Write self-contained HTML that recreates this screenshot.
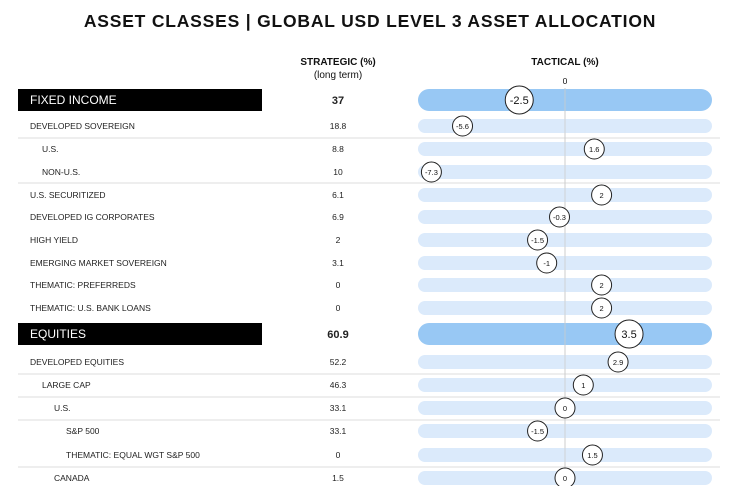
<!DOCTYPE html>
<html><head><meta charset="utf-8"><style>
body{margin:0;width:741px;height:486px;background:#fff;overflow:hidden;font-family:"Liberation Sans",sans-serif;}
svg{display:block}
</style></head><body>
<svg id="c" width="741" height="486">
<text x="370" y="27" text-anchor="middle" font-size="17.5" font-weight="bold" letter-spacing="0.8" fill="#111">ASSET CLASSES | GLOBAL USD LEVEL 3 ASSET ALLOCATION</text>
<text x="338" y="65" text-anchor="middle" font-size="10" font-weight="bold" fill="#111">STRATEGIC (%)</text>
<text x="338" y="78" text-anchor="middle" font-size="10" fill="#111">(long term)</text>
<text x="565" y="65" text-anchor="middle" font-size="10" font-weight="bold" fill="#111">TACTICAL (%)</text>
<text x="565" y="84" text-anchor="middle" font-size="8.5" fill="#111">0</text>
</svg>
<script>
const labels=["FIXED INCOME","DEVELOPED SOVEREIGN","U.S.","NON-U.S.","U.S. SECURITIZED","DEVELOPED IG CORPORATES","HIGH  YIELD","EMERGING MARKET SOVEREIGN","THEMATIC: PREFERREDS","THEMATIC: U.S. BANK LOANS","EQUITIES","DEVELOPED EQUITIES","LARGE  CAP","U.S.","S&P 500","THEMATIC: EQUAL WGT S&P 500","CANADA"];
const strategic=["37","18.8","8.8","10","6.1","6.9","2","3.1","0","0","60.9","52.2","46.3","33.1","33.1","0","1.5"];
const tactical=[-2.5,-5.6,1.6,-7.3,2,-0.3,-1.5,-1,2,2,3.5,2.9,1,0,-1.5,1.5,0];
const indent=[0,0,1,1,0,0,0,0,0,0,0,0,1,2,3,3,2];
const header=[1,0,0,0,0,0,0,0,0,0,1,0,0,0,0,0,0];
const rowY=[100,126,149,172,195,217,240,263,285,308,334,362,385,408,431,455,478];
const sepY=[138,183,374,397,420,467];
const NS="http://www.w3.org/2000/svg";
const svg=document.getElementById('c');
const x=v=>565+v*18.3;
function mk(t,a,p){const e=document.createElementNS(NS,t);for(const k in a)e.setAttribute(k,a[k]);(p||svg).appendChild(e);return e;}
const zl=mk('line',{x1:565,x2:565,y1:88,y2:486,stroke:'#ccc','stroke-width':1});

sepY.forEach(y=>{const l=mk('line',{x1:18,x2:720,y1:y,y2:y,stroke:'#ddd','stroke-width':1});

});
svg.insertBefore(zl,null);
labels.forEach((lab,i)=>{
 const y=rowY[i],h=header[i];
 const g=mk('g',{});
 
 
 if(h){const r=mk('rect',{x:18,y:y-11,width:244,height:22,fill:'#000'},g);
  
  }
 const t=mk('text',{x:(h?30:30+indent[i]*12),y:y+(h?4:3),'font-size':h?12:8.5,fill:h?'#fff':'#222'},g);t.textContent=lab;
 
 
 const s=mk('text',{x:338,y:y+(h?4:3),'text-anchor':'middle','font-size':h?11:8.5,'font-weight':h?'bold':'normal',fill:'#222'},g);s.textContent=strategic[i];
 
 
 const bh=h?22:14;
 const b=mk('rect',{x:418,y:y-bh/2,width:294,height:bh,rx:bh/2,fill:h?'#98c8f4':'#dbeafb'},g);
 
 
});
// redraw zero line on top of tracks
const zl2=mk('line',{x1:565,x2:565,y1:88,y2:486,stroke:'#ccc','stroke-width':0.8});


tactical.forEach((v,i)=>{
 const h=header[i],y=rowY[i],r=h?14:10;
 const c=mk('circle',{cx:x(v),cy:y,r:r,fill:'#fff',stroke:'#222','stroke-width':1});
 
 
 const t=mk('text',{x:x(v),y:y+(h?4:3),'text-anchor':'middle','font-size':h?11:7.5,fill:'#111'});t.textContent=String(v);
 
 
});
</script>
</body></html>
